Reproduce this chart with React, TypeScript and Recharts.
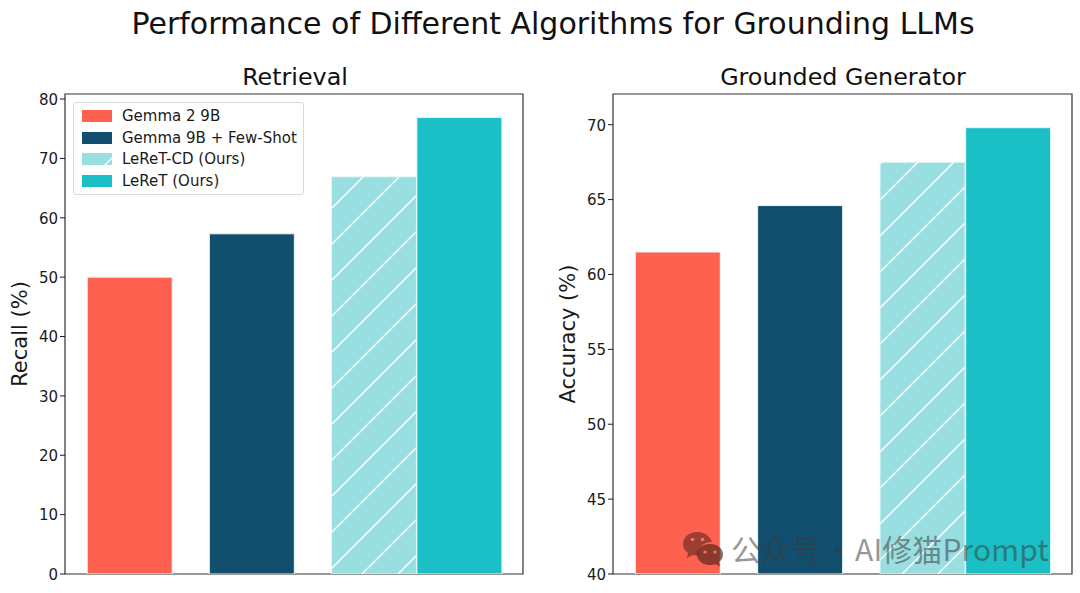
import { Bar, BarChart, Legend, ReferenceArea, XAxis, YAxis } from "recharts";

const RED = "#FF6150";
const NAVY = "#124E6E";
const TEAL = "#1AC0C6";
const PALE = "#99DEE0";
const INK = "#1a1a1a";
const FONT = "'DejaVu Sans', sans-serif";

const ALGORITHMS = ["Gemma 2 9B", "Gemma 9B + Few-Shot", "LeReT-CD (Ours)", "LeReT (Ours)"];
const POSITIONS = [0, 1, 2, 2.7];
const X_DOMAIN = [-0.532, 3.219];
const RECALL = [50, 57.3, 66.9, 76.9];
const RECALL_TICKS = [0, 10, 20, 30, 40, 50, 60, 70, 80];
const ACCURACY = [61.5, 64.6, 67.5, 69.8];
const ACCURACY_TICKS = [40, 45, 50, 55, 60, 65, 70];
const FILLS = [RED, NAVY, "url(#hatch)", TEAL];

function toRows(values: number[]) {
  return values.map((v, i) => ({ x: POSITIONS[i], [ALGORITHMS[i]]: v }));
}

function LegendBox({ payload }: any) {
  return (
    <div style={{ width: 231, height: 93, boxSizing: "border-box", border: "1.5px solid #d9d9d9", borderRadius: 3, background: "rgba(255,255,255,0.8)", padding: "2px 0 0 8px", fontFamily: FONT, fontSize: 15, color: INK }}>
      {(payload || []).map((p: any) => (
        <div key={p.value} style={{ height: 21.7, display: "flex", alignItems: "center" }}>
          <svg width={30} height={14} style={{ marginRight: 10, flex: "none" }}>
            <rect x={0} y={1} width={30} height={12} fill={p.color} />
          </svg>
          <span style={{ whiteSpace: "nowrap" }}>{p.value}</span>
        </div>
      ))}
    </div>
  );
}

function Panel({ values, ticks, domain, label, axisWidth, rightGap, labelOffset, legend }: any) {
  return (
    <BarChart width={540} height={593} data={toRows(values)} margin={{ top: 94, right: rightGap, bottom: 19, left: 0 }} barSize={85}>
      <defs>
        <pattern id="hatch" patternUnits="userSpaceOnUse" width={36} height={36}>
          <rect width={36} height={36} fill={PALE} />
          <path d="M-9 9 L9 -9 M0 36 L36 0 M27 45 L45 27" stroke="#fff" strokeWidth={1.4} />
        </pattern>
      </defs>
      <XAxis dataKey="x" type="number" domain={X_DOMAIN} hide allowDataOverflow />
      <YAxis
        width={axisWidth}
        domain={domain}
        ticks={ticks}
        interval={0}
        allowDataOverflow
        axisLine={false}
        tickSize={5}
        tickLine={{ stroke: INK, strokeWidth: 1 }}
        tick={{ fontSize: 15, fill: INK, fontFamily: FONT, dy: 0.5 }}
        label={{ value: label, angle: -90, position: "insideLeft", offset: labelOffset, style: { fontSize: 21, fill: INK, fontFamily: FONT, textAnchor: "middle" } }}
      />
      {ALGORITHMS.map((name, i) => (
        <Bar key={name} dataKey={name} name={name} stackId="all" fill={FILLS[i]} stroke="#e8f7f8" strokeWidth={1} isAnimationActive={false} />
      ))}
      <ReferenceArea x1={X_DOMAIN[0]} x2={X_DOMAIN[1]} y1={domain[0]} y2={domain[1]} fill="none" fillOpacity={0} stroke="#333" strokeWidth={1.2} ifOverflow="visible" />
      {legend && (
        <Legend layout="vertical" align="center" verticalAlign="middle" itemSorter={null} content={LegendBox} wrapperStyle={{ left: 73, top: 102, width: 231 }} />
      )}
    </BarChart>
  );
}

const titleStyle: any = { position: "absolute", fontFamily: FONT, color: "#111", whiteSpace: "nowrap", transform: "translateX(-50%)", lineHeight: 1 };

export default function App() {
  return (
    <div style={{ position: "absolute", left: 0, top: 0, width: 1080, height: 593, background: "#fff", overflow: "hidden" }}>
      <div style={{ position: "absolute", left: 0, top: 0 }}>
        <Panel values={RECALL} ticks={RECALL_TICKS} domain={[0, 80.85]} label="Recall (%)" axisWidth={65} rightGap={17} labelOffset={20} legend />
      </div>
      <div style={{ position: "absolute", left: 540, top: 0 }}>
        <Panel values={ACCURACY} ticks={ACCURACY_TICKS} domain={[40, 72.05]} label="Accuracy (%)" axisWidth={73} rightGap={8} labelOffset={28} />
      </div>
      <div style={{ ...titleStyle, left: 553, top: 9, fontSize: 30 }}>Performance of Different Algorithms for Grounding LLMs</div>
      <div style={{ ...titleStyle, left: 295, top: 66, fontSize: 23.8 }}>Retrieval</div>
      <div style={{ ...titleStyle, left: 843, top: 66, fontSize: 23.8 }}>Grounded Generator</div>
      <svg width={42} height={36} viewBox="0 0 42 36" style={{ position: "absolute", left: 682, top: 531 }}>
        <path d="M16 1 C7 1 1 6.500 1 13 C1 17 3 20 6 22 L5 27 L11 24 C13 24.600 15 25 17 24.800 C15 17 21 11 30 11 C28 5 22 1 16 1 Z" fill="rgba(90,40,30,0.6)" />
        <path d="M28 13 C20 13 15 18 15 23.500 C15 29 20 34 28 34 C30 34 31.500 33.700 33 33 L38 35.500 L37 31 C39.500 29 41 26.500 41 23.500 C41 18 36 13 28 13 Z" fill="rgba(90,40,30,0.7)" />
        <circle cx={10.500} cy={8.500} r={1.800} fill="#e9796a" />
        <circle cx={20.500} cy={8.500} r={1.800} fill="#e9796a" />
        <circle cx={23} cy={21} r={1.600} fill="#e9796a" />
        <circle cx={33} cy={21} r={1.600} fill="#e9796a" />
      </svg>
      <div style={{ position: "absolute", left: 731, top: 528, fontFamily: "'Noto Sans CJK SC', sans-serif", fontSize: 30, wordSpacing: -5, letterSpacing: 0.1, lineHeight: "40px", color: "rgba(60,60,60,0.55)", whiteSpace: "nowrap" }}>公众号 · AI修猫Prompt</div>
    </div>
  );
}
